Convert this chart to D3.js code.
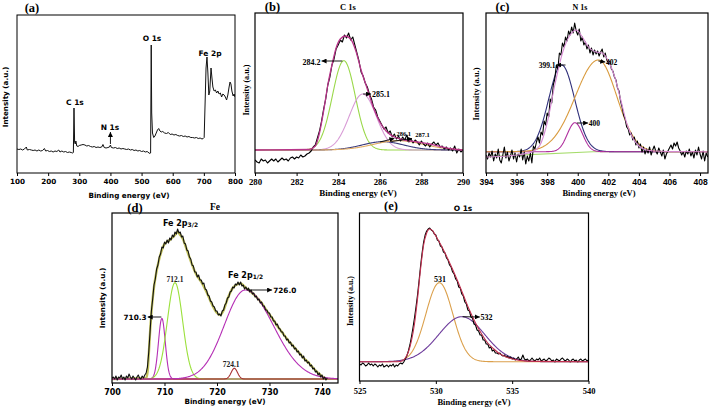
<!DOCTYPE html>
<html><head><meta charset="utf-8">
<script src="https://cdn.jsdelivr.net/npm/d3@7"></script>
<style>body{margin:0;background:#fff}svg{display:block}</style></head>
<body><svg id="c" width="709" height="409"></svg>
<script>
// ---------------- DATA ----------------
// (a) survey
const surveyEnergy = [100,106,112,118,124,130,133,140,146,152,
158,164,170,176,182,188,192,198,204,210,
216,222,228,234,238,244,250,256,262,268,
274,279,281,283,285,287,289,292,296,300,
306,312,318,324,330,336,342,348,354,360,
366,372,376,380,386,392,397,400,403,410,
416,422,428,434,440,446,452,458,464,470,
476,482,488,494,500,506,512,518,524,527,
529,531,532.5,535,539,543,547,551,555,559,
563,568,574,580,586,592,598,604,610,616,
622,628,634,640,646,652,658,664,670,676,
682,688,694,698,701,704,707,710,713,716,
719,723,726,729,733,737,741,745,749,753,
757,761,765,769,773,777,781,784,787,790,
794,797,800];
const surveyCounts = [24,23.5,24,23,24,26,23,23.5,23,22.5,
23,22,23,22,22.5,24.5,22,22.5,21.5,22,
21,22,21.5,23,21,22,21,21.5,20.5,21,
20.5,20,20.5,65,31,29,32,27,26.5,27.5,
28,28.5,28,27,27.5,26.5,26,26.5,25.5,26,
25.5,26,28.5,25.5,25,25.5,26,28,25.5,25,
25.5,24.5,25,24,24.5,24,23.5,24,23,23.5,
22.5,23,22,22.5,21.5,22,21,21.5,20,19.5,
20,128,60,40,35.5,37,40,43,44.5,42,
41,41.5,40,39.5,40.5,38.5,39,38,38.5,37.5,
37,37.5,36.5,37,36,36.5,35.5,35.5,35,35.5,
34.5,35,34,34.5,35.5,70,105,116,100,78,
82,105,95,86,82,83,80,82,79,80,
76,79,78,76,73,78,86,91,89,82,
77,79,76];
const surveyTicks = [100,200,300,400,500,600,700,800];

// (b) C 1s  (sampled 280.0 .. 290.0, step 0.1)
const c1sStart = 280, c1sStep = 0.1;
const c1sCounts = [13,11,10,14,12,13,10,12,14,12,
14,11,13,15,13,14,12,15,16,14,
16,15,18,16,17,19,20,22,26,28,
35,42,52,64,74,88,96,108,114,124,
128,133,131,138,135,140,133,136,128,120,
112,101,97,90,86,79,74,66,63,56,
52,48,44,46,40,42,36,39,34,37,
32,36,33,38,31,34,30,33,31,28,
32,29,27,30,26,29,31,28,30,26,
27,24,26,23,25,22,27,20,24,21,
23];
const c1sFitEnergy = [280,282.6,282.9,283.1,283.3,283.5,283.7,283.9,284.1,284.35,284.6,284.85,285.1,285.4,285.7,286.0,286.3,286.7,287.2,287.8,288.4,289,289.5,290];
const c1sFitCounts = [23,23.5,27,40,62,88,108,125,134,137,134,122,103,84,65,51,42,36,33,31,29,26,24,23];
const c1sBackground = 23;
const c1sPeaks = ["284.2","285.1","286.1","287.1"];
const c1sCenters = [284.27,285.18,286.15,286.9];
const c1sHeights = [89.3,56,8.3,9.3];
const c1sSigmaL = [0.55,0.65,1.0,1.2];
const c1sSigmaR = [0.55,0.65,1.0,1.2];
const c1sTicks = [280,282,284,286,288,290];

// (c) N 1s (sampled 394.0 .. 408.5, step 0.1)
const n1sStart = 394, n1sStep = 0.1;
const n1sCounts = [18,14,20,16,22,12,19,15,24,13,
10,18,26,15,21,12,17,23,14,20,
11,19,16,24,13,21,9,17,12,20,
10,27,24,31,36,30,41,38,52,48,
60,56,74,70,88,94,108,104,120,118,
130,126,136,132,142,138,146,140,150,142,
138,144,132,136,128,131,124,128,120,125,
118,123,119,122,117,121,124,116,120,113,
110,112,104,102,96,93,85,82,72,66,
58,54,46,44,38,40,33,36,28,32,
25,29,21,26,19,24,20,26,18,23,
27,22,19,25,21,17,23,14,19,22,
25,28,24,30,27,31,25,22,18,21,
16,22,19,24,17,21,15,23,18,26,
19,14,22,12,20,16];
const n1sFitEnergy = [394,396,397,397.5,398,398.5,399,399.5,399.9,400.3,400.7,401.2,401.6,402,402.4,402.8,403.2,403.6,404,404.5,405,406,408.5];
const n1sFitCounts = [16,18,21,27,50,88,120,138,143,136,126,121,120,112,97,74,50,35,27,23,22,21.5,21.3];
const n1sBgEnergy = [394,401,408.5];
const n1sBgCounts = [16.3,21.3,21.5];
const n1sBackground = 21.3;
const n1sPeaks = ["399.1","400","402"];
const n1sCenters = [398.95,399.82,401.35];
const n1sHeights = [86.7,29,91.7];
const n1sSigmaL = [0.85,0.5,1.5];
const n1sSigmaR = [0.85,0.5,1.2];
const n1sTicks = [394,396,398,400,402,404,406,408];

// (d) Fe 2p (sampled 700.0 .. 741.0, step 0.25)
const fe2pStart = 700, fe2pStep = 0.25;
const fe2pCounts = [5,6,4,7,3,6,5,8,
4,6,3,7,5,9,6,4,
7,5,3,6,8,5,4,7,
5,8,10,16,31,51,72,84,
98,104,114,118,126,129,136,135,
141,139,143,140,145,143,148,146,
151,149,154,150,151,146,147,140,
139,133,132,126,124,118,117,111,
111,106,108,103,103,99,100,94,
93,88,87,82,81,77,76,72,
72,68,69,67,72,73,78,80,
85,86,91,92,96,95,99,98,
101,98,101,97,98,94,96,93,
95,91,93,89,90,86,87,83,
84,80,81,77,77,73,73,70,
70,66,66,62,62,58,59,55,
54,51,51,47,47,43,44,40,
41,37,38,34,35,31,32,28,
29,25,27,22,23,20,21,17,
18,14,15,11,12,8,10,6,
8,4,6,3,5];
const fe2pFitEnergy = [700,706.5,706.8,707,707.3,707.6,708,708.5,709,709.5,710,711,712,712.5,713,713.5,714,715,716,717,718,719,720,720.6,721.2,722,723,724,724.5,725.5,726.5,727.5,728.5,729.5,730.5,731.5,732.5,733.5,734.5,735.5,736.5,737.5,738.5,739.5,740.5,741];
const fe2pFitCounts = [4,5,12,28,55,76,96,112,124,133,139,143,148,151,148,144,137,122,109,101,91,79,70,68,72,84,95,99,99.5,95,91,86,80,72,65,57,50,43,37,31,25,20,14,9,5,4];
const fe2pBackground = 4;
const fe2pPeaks = ["710.3","712.1","724.1","726.0"];
const fe2pCenters = [709.5,712.0,723.3,725.4];
const fe2pHeights = [60.7,96.3,10.7,89];
const fe2pSigmaL = [0.65,1.45,0.6,4.0];
const fe2pSigmaR = [0.65,1.45,0.6,5.3];
const fe2pTicks = [700,710,720,730,740];

// (e) O 1s (sampled 525.0 .. 540.0, step 0.1)
const o1sStart = 525, o1sStep = 0.1;
const o1sCounts = [17,16,18,17,15,16,18,16,17,15,
17,16,14,16,15,17,14,15,16,14,
16,15,17,14,16,15,17,18,17,19,
22,25,30,36,44,53,63,74,86,100,
115,128,139,146,150,152,153,151,150,147,
146,141,140,135,134,129,128,123,121,116,
114,109,107,102,100,94,93,87,85,79,
77,71,70,64,63,57,56,51,50,46,
46,41,41,37,37,33,34,30,31,28,
28,27,28,26,25,26,24,25,23,24,
22,23,21,22,24,21,22,26,22,21,
22,20,21,23,21,20,22,21,23,20,
21,22,20,21,23,22,20,21,19,22,
21,20,22,23,21,20,22,21,19,21,
22,20,21,19,21,22,20,21,22,20,
21];
const o1sFitEnergy = [525,527.5,527.8,528,528.2,528.4,528.6,528.8,529,529.2,529.4,529.6,529.8,530,530.3,530.6,531,531.4,531.8,532.2,532.6,533,533.4,533.8,534.2,534.8,535.5,536.5,540];
const o1sFitCounts = [19.3,19.3,20,23,29,40,57,82,112,136,148,152,150,145,137,128,115,101,86,71,58,47,38,32,27,23,20.5,19.6,19.3];
const o1sBackground = 19.3;
const o1sPeaks = ["531","532"];
const o1sCenters = [530.23,531.7];
const o1sHeights = [79,45];
const o1sSigmaL = [0.88,1.5];
const o1sSigmaR = [0.88,1.5];
const o1sTicks = [525,530,535,540];

// ---------------- DRAWING ----------------
const SERIF = "'Liberation Serif','Times New Roman',serif";
const SANS = "'DejaVu Sans',Verdana,sans-serif";
const ARIAL = "'Liberation Sans',Arial,sans-serif";
const svg = d3.select('#c');
svg.append('rect').attr('width',709).attr('height',409).attr('fill','#fff');
const defs = svg.append('defs');
defs.append('marker').attr('id','ah').attr('viewBox','0 0 6 6').attr('refX',6).attr('refY',3)
  .attr('markerWidth',5).attr('markerHeight',5).attr('markerUnits','userSpaceOnUse').attr('orient','auto')
  .append('path').attr('d','M0,0L6,3L0,6Z').attr('fill','#000');

function makePanel(p){
  const x = d3.scaleLinear().domain(p.xDomain).range([p.left,p.right]);
  const y = d3.scaleLinear().domain([0,p.bottom-p.top]).range([p.bottom,p.top]);
  const g = svg.append('g');
  defs.append('clipPath').attr('id','clip'+p.id).append('rect')
    .attr('x',p.left).attr('y',p.top).attr('width',p.right-p.left).attr('height',p.bottom-p.top);
  const axis = d3.axisBottom(x).tickValues(p.ticks).tickSizeInner(3).tickSizeOuter(0).tickPadding(p.pad).tickFormat(d3.format('d'));
  const ag = g.append('g').attr('transform',`translate(0,${p.bottom})`).call(axis);
  ag.select('.domain').remove();
  ag.selectAll('line').attr('stroke','#000').attr('stroke-width',1);
  ag.selectAll('text').attr('font-family',p.tickFont).attr('font-size',p.tickSize).attr('font-weight','bold').attr('fill','#000');
  const plot = g.append('g').attr('clip-path',`url(#clip${p.id})`);
  g.append('rect').attr('x',p.left).attr('y',p.top).attr('width',p.right-p.left).attr('height',p.bottom-p.top)
    .attr('fill','none').attr('stroke','#000').attr('stroke-width',p.frameW||1.2);
  g.append('text').attr('x',p.xTitle[0]).attr('y',p.xTitle[1]).attr('text-anchor','middle')
    .attr('font-family',p.titleFont).attr('font-size',p.titleSize).attr('font-weight','bold').text('Binding energy (eV)');
  g.append('text').attr('transform',`translate(${p.yTitle[0]},${p.yTitle[1]}) rotate(-90)`).attr('text-anchor','middle')
    .attr('dy','0.35em').attr('font-family',p.yFont).attr('font-size',p.ySize).attr('font-weight','bold').text('Intensity (a.u.)');
  g.append('text').attr('x',p.tag[0]).attr('y',p.tag[1]).attr('text-anchor','middle').attr('dy','0.35em')
    .attr('font-family',SERIF).attr('font-size',12.5).attr('font-weight','bold').text(p.tagText);
  if(p.head){
    g.append('text').attr('x',p.head[0]).attr('y',p.head[1]).attr('text-anchor','middle').attr('dy','0.35em')
      .attr('font-family',p.headFont).attr('font-size',p.headSize).attr('font-weight','bold').text(p.headText);
  }
  return {x,y,g,plot};
}
function gridOf(start,step,n){ return d3.range(n).map(i=>+(start+i*step).toFixed(3)); }
function drawLine(P,xs,ys,color,w,curve){
  const line = d3.line().x(d=>P.x(d[0])).y(d=>P.y(d[1]));
  if(curve) line.curve(curve);
  P.plot.append('path').datum(xs.map((v,i)=>[v,ys[i]])).attr('d',line)
    .attr('fill','none').attr('stroke',color).attr('stroke-width',w).attr('stroke-linejoin','round');
}
function drawPeak(P,c,h,sl,sr,base,color,w){
  const [a,b] = P.x.domain();
  const xs = d3.range(a,b+0.001,(b-a)/400);
  const ys = xs.map(v=>{const s = v<c?sl:sr; return base+h*Math.exp(-0.5*((v-c)/s)**2);});
  drawLine(P,xs,ys,color,w);
}
function label(P,e,v,t,o){
  o=o||{};
  return P.g.append('text').attr('x',P.x(e)).attr('y',P.y(v)).attr('dy','0.35em')
    .attr('text-anchor',o.anchor||'middle').attr('font-family',o.font||SERIF)
    .attr('font-size',o.size||8).attr('font-weight',o.weight||'bold').attr('fill',o.color||'#000').text(t);
}
function arrow(P,e1,v1,e2,v2){
  P.g.append('line').attr('x1',P.x(e1)).attr('y1',P.y(v1)).attr('x2',P.x(e2)).attr('y2',P.y(v2))
    .attr('stroke','#000').attr('stroke-width',0.9).attr('marker-end','url(#ah)');
}

// ----- (a) -----
const A = makePanel({id:'a',left:17,right:235,top:15,bottom:173,xDomain:[100,800],ticks:surveyTicks,pad:3,
  tickFont:SANS,tickSize:7.2,titleFont:SANS,titleSize:7.2,xTitle:[129,198],yFont:SANS,ySize:7.2,yTitle:[5,97],
  tag:[32,8],tagText:'(a)',frameW:1});
drawLine(A,surveyEnergy,surveyCounts,'#111',1);
label(A,286,71,'C 1s',{font:SANS,size:7.5});
label(A,398.6,46,'N 1s',{font:SANS,size:7.5});
arrow(A,400,29,400,41);
label(A,533.5,135,'O 1s',{font:SANS,size:7.5});
label(A,719.7,120,'Fe 2p',{font:SANS,size:7.5});

// ----- (b) -----
const B = makePanel({id:'b',left:255,right:463,top:13,bottom:173,xDomain:[280,290],ticks:c1sTicks,pad:3,
  tickFont:SERIF,tickSize:8.8,titleFont:SERIF,titleSize:9,xTitle:[358,195.5],yFont:SERIF,ySize:8.2,yTitle:[246.5,90],
  tag:[272.5,7],tagText:'(b)',head:[348,7.5],headText:'C 1s',headFont:SERIF,headSize:8.5});
const bColors = ['#9ad84a','#d89bd6','#3b3b7d','#e2ad66'];
c1sCenters.forEach((c,i)=>drawPeak(B,c,c1sHeights[i],c1sSigmaL[i],c1sSigmaR[i],c1sBackground,bColors[i],1.1));
drawLine(B,gridOf(c1sStart,c1sStep,c1sCounts.length),c1sCounts,'#000',1.1);
drawLine(B,c1sFitEnergy,c1sFitCounts,'#b8358a',1.3,d3.curveMonotoneX);
label(B,283.15,111,c1sPeaks[0],{anchor:'end'});
arrow(B,284.2,112,283.2,112);
label(B,285.62,79,c1sPeaks[1],{anchor:'start'});
arrow(B,285.2,79,285.58,79);
label(B,287.15,39.5,c1sPeaks[2],{size:6.5});
label(B,288.05,38.5,c1sPeaks[3],{size:6.5});
arrow(B,286.0,31,286.7,34.5);
arrow(B,286.55,31.5,287.55,34.5);

// ----- (c) -----
const C = makePanel({id:'c',left:486,right:708,top:13,bottom:173,xDomain:[394,408.52],ticks:n1sTicks,pad:3,
  tickFont:ARIAL,tickSize:8.5,titleFont:SERIF,titleSize:8.5,xTitle:[599,195.5],yFont:SERIF,ySize:8.5,yTitle:[476,94],
  tag:[502.5,7],tagText:'(c)',head:[580,7.5],headText:'N 1s',headFont:SERIF,headSize:8});
const cColors = ['#2f2f7a','#b0309e','#d99b3e'];
drawLine(C,n1sBgEnergy,n1sBgCounts,'#a6dc6c',1.1);
n1sCenters.forEach((c,i)=>drawPeak(C,c,n1sHeights[i],n1sSigmaL[i],n1sSigmaR[i],n1sBackground,cColors[i],1.1));
drawLine(C,gridOf(n1sStart,n1sStep,n1sCounts.length),n1sCounts,'#000',1.1);
drawLine(C,n1sFitEnergy,n1sFitCounts,'#d58ad2',1.1,d3.curveMonotoneX);
label(C,398.55,108,n1sPeaks[0],{anchor:'end',size:7.5});
arrow(C,399.2,108,398.6,108);
label(C,400.72,50,n1sPeaks[1],{anchor:'start',size:7.5});
arrow(C,399.95,50,400.68,50);
label(C,401.85,111,n1sPeaks[2],{anchor:'start',size:7.5});
arrow(C,401.35,112,401.8,111);

// ----- (d) -----
const D = makePanel({id:'d',left:112,right:338,top:213,bottom:383,xDomain:[700,743.05],ticks:fe2pTicks,pad:3,
  tickFont:SANS,tickSize:8,titleFont:SANS,titleSize:7.2,xTitle:[225,404],yFont:SANS,ySize:7.2,yTitle:[102.5,298],
  tag:[135,208],tagText:'(d)',head:[215,207],headText:'Fe',headFont:SERIF,headSize:9.5});
const dColors = ['#b52fb5','#9be03c','#a83434','#b52fb5'];
drawLine(D,[700,741],[fe2pBackground,fe2pBackground],'#b03434',1.1);
drawLine(D,fe2pFitEnergy,fe2pFitCounts,'#c2c25a',2.4,d3.curveMonotoneX);
fe2pCenters.forEach((c,i)=>drawPeak(D,c,fe2pHeights[i],fe2pSigmaL[i],fe2pSigmaR[i],fe2pBackground,dColors[i],1.1));
drawLine(D,gridOf(fe2pStart,fe2pStep,fe2pCounts.length),fe2pCounts,'#111',1.1);
const t1 = label(D,709.7,160,'Fe 2p',{anchor:'start',font:SANS,size:8});
t1.append('tspan').attr('font-size',6).attr('dy',1).text('3/2');
const t2 = label(D,722.1,108,'Fe 2p',{anchor:'start',font:SANS,size:8});
t2.append('tspan').attr('font-size',6).attr('dy',1).text('1/2');
label(D,712,104,fe2pPeaks[1],{font:SERIF,size:7.5,color:'#222'});
label(D,706.6,66,fe2pPeaks[0],{anchor:'end',font:SANS,size:7.3});
arrow(D,709.4,66,706.8,66);
label(D,730.7,93,fe2pPeaks[3],{anchor:'start',font:SANS,size:7.3});
arrow(D,725.8,93,730.5,93);
label(D,722.7,19,fe2pPeaks[2],{font:SERIF,size:7.5,color:'#222'});

// ----- (e) -----
const E = makePanel({id:'e',left:359.5,right:588.5,top:213,bottom:381,xDomain:[525,540],ticks:o1sTicks,pad:3.5,
  tickFont:SERIF,tickSize:8.5,titleFont:SERIF,titleSize:8.5,xTitle:[474,405],yFont:SERIF,ySize:8,yTitle:[350,301],
  tag:[391,206],tagText:'(e)',head:[463,208],headText:'O 1s',headFont:SANS,headSize:7.5});
const eColors = ['#dba04c','#6e3c9c'];
o1sCenters.forEach((c,i)=>drawPeak(E,c,o1sHeights[i],o1sSigmaL[i],o1sSigmaR[i],o1sBackground,eColors[i],1.1));
drawLine(E,gridOf(o1sStart,o1sStep,o1sCounts.length),o1sCounts,'#000',1.1);
drawLine(E,o1sFitEnergy,o1sFitCounts,'#c33050',1.1,d3.curveMonotoneX);
label(E,530.27,102,o1sPeaks[0]);
label(E,532.92,64,o1sPeaks[1],{anchor:'start'});
arrow(E,531.75,64.3,532.88,64);
</script></body></html>
